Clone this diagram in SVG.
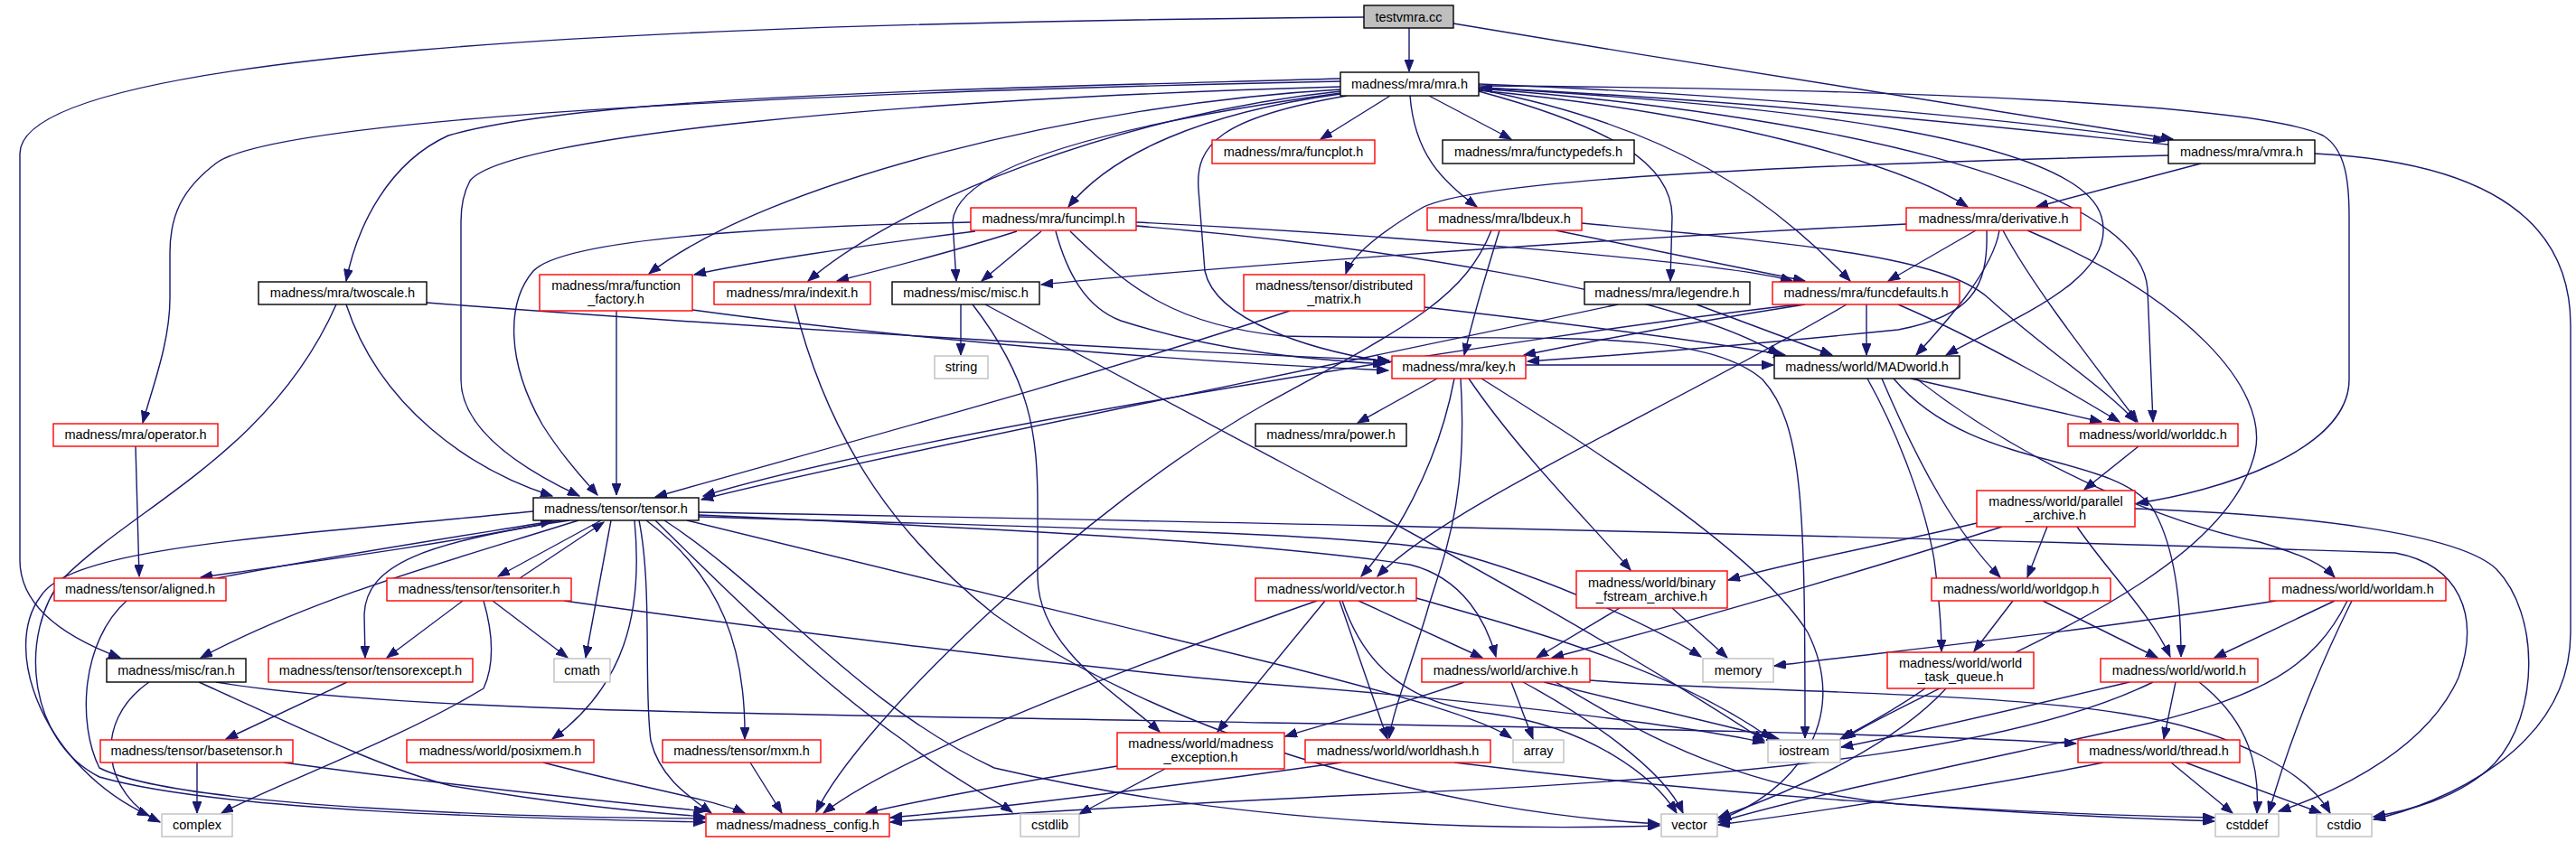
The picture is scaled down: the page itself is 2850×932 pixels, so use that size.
<svg xmlns="http://www.w3.org/2000/svg" width="2850" height="932" viewBox="0 0 2850 932">
<style>
.bg{fill:#fff}
rect{fill:#fff;stroke-width:1.4}
.k rect{stroke:#000}
.r rect{stroke:#ff0000}
.g rect{stroke:#bfbfbf}
.root rect{fill:#bfbfbf;stroke:#000}
text{font-family:"Liberation Sans",Arial,sans-serif;font-size:14.5px;fill:#000;text-anchor:middle}
#edges path{fill:none;stroke:#191970;stroke-width:1.4;marker-end:url(#a)}
</style>
<defs>
<marker id="a" markerUnits="userSpaceOnUse" markerWidth="14" markerHeight="10" refX="13" refY="5" orient="auto"><path d="M0,0L13,5L0,10z" fill="#191970" stroke="#191970" stroke-width="1"/></marker>
</defs>
<rect class="bg" x="0" y="0" width="2850" height="932" style="stroke:none"/>
<g id="edges">
<path d="M1559,31 L1559,79"/>
<path d="M1608,26 C1900,75 2250,130 2404,154"/>
<path d="M1509,19 C700,25 22,60 22,170 L22,620 C22,680 90,712 133,728"/>
<path d="M1538,106 L1461,154"/>
<path d="M1581,106 L1672,154"/>
<path d="M1560,106 C1565,170 1595,200 1634,229"/>
<path d="M1483,104 C1330,125 1230,170 1182,229"/>
<path d="M1636,93 C1950,105 2250,135 2395,156"/>
<path d="M2399,160 C2200,140 1950,112 1638,97"/>
<path d="M1636,100 C1900,125 2100,180 2177,229"/>
<path d="M2435,181 L2253,229"/>
<path d="M1483,87 C1100,98 650,105 496,150 C430,180 395,250 383,311"/>
<path d="M1483,90 C1000,100 320,125 240,180 C200,210 188,240 188,280 L188,330 C188,380 168,430 158,468"/>
<path d="M1483,96 C1000,110 560,150 520,200 C512,215 510,230 510,245 L510,420 C510,480 590,525 641,549"/>
<path d="M1483,99 C1200,115 850,200 718,303"/>
<path d="M1483,101 C1250,125 1000,220 894,311"/>
<path d="M1483,103 C1250,135 1060,180 1054,245 L1058,311"/>
<path d="M1490,106 C1350,130 1322,160 1326,210 L1333,300 C1345,355 1450,388 1538,401"/>
<path d="M1636,101 C1780,140 1850,180 1850,240 L1848,311"/>
<path d="M1636,99 C1850,140 1960,220 2047,311"/>
<path d="M1636,97 C1950,115 2300,150 2325,240 C2345,310 2220,355 2153,393"/>
<path d="M1636,98 C2000,125 2368,200 2376,320 L2382,467"/>
<path d="M1636,95 C2100,98 2500,115 2570,150 C2595,165 2599,200 2599,240 L2599,420 C2599,500 2450,545 2364,557"/>
<path d="M2399,172 C2000,182 1620,198 1570,232 C1520,262 1495,285 1489,303"/>
<path d="M2561,170 C2760,180 2844,250 2844,360 L2844,700 C2844,830 2700,890 2626,907"/>
<path d="M2362,563 C2550,570 2720,590 2762,630 C2810,680 2810,790 2760,845 C2720,885 2660,898 2626,904"/>
<path d="M1074,246 C800,252 620,268 590,300 C560,335 560,400 600,470 C625,510 650,535 661,548"/>
<path d="M1079,256 C950,272 820,292 768,304"/>
<path d="M1125,256 C1050,280 970,300 926,311"/>
<path d="M1152,256 L1086,311"/>
<path d="M1168,256 C1180,300 1200,340 1240,355 C1350,390 1450,398 1532,403"/>
<path d="M1257,250 C1500,270 1850,320 1969,393"/>
<path d="M1257,246 C1500,258 1900,288 1983,311"/>
<path d="M1184,256 C1250,320 1300,360 1420,372 C1700,378 1880,360 1950,420 C1995,470 1997,560 1997,817"/>
<path d="M1659,255 C1645,300 1630,350 1620,393"/>
<path d="M1721,255 L1997,311"/>
<path d="M1750,247 C2000,270 2150,285 2200,330 C2260,385 2330,430 2363,467"/>
<path d="M1650,255 C1620,330 1560,360 1400,447 C1200,560 950,800 903,899"/>
<path d="M2109,248 C1700,268 1300,300 1152,315"/>
<path d="M2186,255 L2089,311"/>
<path d="M2198,255 C2200,320 2180,350 2100,365 C1900,385 1750,396 1690,400"/>
<path d="M2212,255 C2205,300 2150,360 2120,393"/>
<path d="M2216,255 C2250,320 2330,420 2365,467"/>
<path d="M2243,255 C2420,330 2510,430 2495,500 C2470,610 2300,690 2150,760 C2090,790 2060,805 2040,818"/>
<path d="M1997,337 C1850,360 1750,380 1686,393"/>
<path d="M2065,337 L2065,393"/>
<path d="M2100,337 C2200,380 2300,440 2345,467"/>
<path d="M1990,337 C1700,370 1000,480 778,549"/>
<path d="M2043,337 C1850,450 1600,560 1524,638"/>
<path d="M1877,337 L2027,393"/>
<path d="M1790,337 C1400,420 900,520 776,553"/>
<path d="M1427,344 C1200,420 900,500 725,550"/>
<path d="M1576,340 C1750,360 1900,380 1975,393"/>
<path d="M383,337 C420,450 520,520 611,549"/>
<path d="M372,337 C300,500 150,560 70,640 C20,700 30,820 110,860 C250,900 600,906 780,910"/>
<path d="M472,335 C800,360 1200,385 1537,399"/>
<path d="M682,344 L682,548"/>
<path d="M766,343 C1000,375 1300,400 1536,410"/>
<path d="M879,337 C920,500 1000,600 1100,680 C1300,820 1600,900 1836,912"/>
<path d="M1063,337 L1063,393"/>
<path d="M1076,337 C1140,420 1148,480 1148,560 L1148,640 C1150,720 1240,770 1283,810"/>
<path d="M1090,337 L1420,513 C1600,610 1800,720 1952,820"/>
<path d="M1590,419 L1502,468"/>
<path d="M1609,419 C1590,520 1540,600 1506,638"/>
<path d="M1625,419 C1680,500 1760,580 1804,631"/>
<path d="M1616,419 C1625,560 1595,620 1578,680 C1560,740 1540,790 1537,817"/>
<path d="M1639,419 C1800,520 1950,620 2000,700 C2050,800 1980,880 1902,907"/>
<path d="M1688,404 L1962,404"/>
<path d="M2114,419 L2325,467"/>
<path d="M2095,419 C2180,520 2330,500 2380,560 C2405,600 2413,660 2413,727"/>
<path d="M2066,419 C2100,480 2130,560 2140,620 C2145,660 2148,690 2148,721"/>
<path d="M2082,419 C2125,520 2165,590 2213,639"/>
<path d="M2120,419 C2250,520 2400,580 2500,600 C2550,615 2570,625 2583,639"/>
<path d="M2366,494 L2306,542"/>
<path d="M2265,583 L2243,639"/>
<path d="M2298,583 C2330,630 2380,680 2401,727"/>
<path d="M2187,579 C2100,600 1990,620 1912,642"/>
<path d="M2215,583 C2100,620 1900,680 1717,728"/>
<path d="M773,567 C1200,575 2000,590 2650,612 C2720,625 2745,680 2720,750 C2680,840 2560,885 2521,898"/>
<path d="M620,576 C480,605 320,625 222,639"/>
<path d="M240,640 C350,618 500,595 611,577"/>
<path d="M665,576 L551,638"/>
<path d="M575,640 L668,578"/>
<path d="M640,576 C500,620 350,660 222,728"/>
<path d="M630,576 C470,600 405,625 403,680 L404,728"/>
<path d="M676,576 L648,728"/>
<path d="M702,576 C712,680 690,760 611,818"/>
<path d="M715,576 C800,640 825,720 824,818"/>
<path d="M707,576 C722,650 712,760 720,820 C730,860 760,880 787,900"/>
<path d="M725,576 C800,650 900,750 1000,820 C1050,860 1100,885 1120,899"/>
<path d="M735,576 C850,650 950,780 1100,850 C1400,920 1700,918 1836,914"/>
<path d="M760,576 L1420,737 C1550,770 1640,795 1672,817"/>
<path d="M773,570 C1100,585 1400,600 1560,625 C1620,640 1645,690 1655,727"/>
<path d="M773,572 C1200,585 1500,590 1602,610 C1720,640 1840,700 1882,727"/>
<path d="M590,566 C300,595 80,605 45,660 C0,720 50,850 165,903"/>
<path d="M140,665 C90,710 85,800 110,850 C200,895 600,905 780,906"/>
<path d="M150,494 L154,638"/>
<path d="M165,755 C100,800 115,880 177,910"/>
<path d="M220,755 C320,800 420,850 500,870 C620,890 700,898 780,904"/>
<path d="M239,755 C450,790 900,790 1400,800 C1800,806 2100,812 2297,823"/>
<path d="M384,755 L250,818"/>
<path d="M512,665 L428,728"/>
<path d="M545,665 L628,728"/>
<path d="M535,665 C548,710 545,740 535,762 C440,820 300,870 245,900"/>
<path d="M624,665 C800,690 1200,740 1400,757 C1700,780 1900,810 1952,822"/>
<path d="M218,844 L218,900"/>
<path d="M314,844 C500,870 700,890 781,898"/>
<path d="M601,844 C700,870 790,885 824,900"/>
<path d="M830,844 L865,900"/>
<path d="M1457,665 C1300,720 1000,830 911,900"/>
<path d="M1466,665 L1347,810"/>
<path d="M1503,665 L1640,728"/>
<path d="M1482,665 L1535,818"/>
<path d="M1567,662 C1700,700 1850,740 1960,818"/>
<path d="M1485,665 C1510,740 1560,780 1650,790 C1760,805 1830,860 1855,900"/>
<path d="M1792,673 L1700,728"/>
<path d="M1850,673 L1911,728"/>
<path d="M1620,755 C1550,780 1470,800 1422,815"/>
<path d="M1672,755 L1696,818"/>
<path d="M1708,755 L1968,818"/>
<path d="M1685,755 C1750,790 1840,850 1862,900"/>
<path d="M1721,755 C1800,800 1900,870 2100,890 C2300,905 2400,907 2450,909"/>
<path d="M1759,753 C1900,765 2200,765 2350,790 C2480,810 2555,860 2578,900"/>
<path d="M1236,848 C1100,870 1000,890 958,900"/>
<path d="M1289,851 L1194,901"/>
<path d="M1484,844 C1300,870 1100,895 985,905"/>
<path d="M1609,844 C1900,880 2200,900 2450,905"/>
<path d="M2356,755 C2250,780 2100,815 2037,827"/>
<path d="M2407,755 L2394,818"/>
<path d="M2433,755 C2490,800 2500,850 2497,900"/>
<path d="M2382,755 C2250,820 2000,860 1500,880 C1200,895 1050,905 985,910"/>
<path d="M2130,762 C2090,790 2060,805 2036,818"/>
<path d="M2153,762 C2100,820 2000,870 1901,905"/>
<path d="M2227,665 L2184,721"/>
<path d="M2260,665 L2387,728"/>
<path d="M2583,665 L2450,728"/>
<path d="M2518,665 C2300,700 2100,720 1963,737"/>
<path d="M2602,665 C2560,750 2530,830 2510,900"/>
<path d="M2597,665 C2560,740 2500,770 2380,800 C2200,840 2000,880 1901,910"/>
<path d="M2402,844 L2470,900"/>
<path d="M2418,844 L2568,900"/>
<path d="M2327,844 C2200,870 2000,900 1901,913"/>
</g>
<g id="n_testvmra" class="root"><rect x="1509" y="6" width="99" height="25"/><text x="1558.5" y="23.5">testvmra.cc</text></g>
<g id="n_mra" class="k"><rect x="1483" y="80" width="153" height="26"/><text x="1559.5" y="97.5">madness/mra/mra.h</text></g>
<g id="n_funcplot" class="r"><rect x="1341" y="155" width="180" height="26"/><text x="1431" y="172.5">madness/mra/funcplot.h</text></g>
<g id="n_functypedefs" class="k"><rect x="1596" y="155" width="212" height="26"/><text x="1702" y="172.5">madness/mra/functypedefs.h</text></g>
<g id="n_vmra" class="k"><rect x="2399" y="155" width="162" height="26"/><text x="2480" y="172.5">madness/mra/vmra.h</text></g>
<g id="n_funcimpl" class="r"><rect x="1074" y="230" width="183" height="25"/><text x="1165.5" y="247">madness/mra/funcimpl.h</text></g>
<g id="n_lbdeux" class="r"><rect x="1579" y="230" width="171" height="25"/><text x="1664.5" y="247">madness/mra/lbdeux.h</text></g>
<g id="n_derivative" class="r"><rect x="2109" y="230" width="193" height="25"/><text x="2205.5" y="247">madness/mra/derivative.h</text></g>
<g id="n_twoscale" class="k"><rect x="286" y="312" width="186" height="25"/><text x="379" y="329">madness/mra/twoscale.h</text></g>
<g id="n_function_factory" class="r"><rect x="597" y="304" width="169" height="40"/><text x="681.5" y="321">madness/mra/function</text><text x="681.5" y="336">_factory.h</text></g>
<g id="n_indexit" class="r"><rect x="790" y="312" width="173" height="25"/><text x="876.5" y="329">madness/mra/indexit.h</text></g>
<g id="n_misc" class="k"><rect x="987" y="312" width="163" height="25"/><text x="1068.5" y="329">madness/misc/misc.h</text></g>
<g id="n_distributed_matrix" class="r"><rect x="1376" y="304" width="200" height="40"/><text x="1476" y="321">madness/tensor/distributed</text><text x="1476" y="336">_matrix.h</text></g>
<g id="n_legendre" class="k"><rect x="1753" y="312" width="183" height="25"/><text x="1844.5" y="329">madness/mra/legendre.h</text></g>
<g id="n_funcdefaults" class="r"><rect x="1961" y="312" width="207" height="25"/><text x="2064.5" y="329">madness/mra/funcdefaults.h</text></g>
<g id="n_key" class="r"><rect x="1540" y="394" width="148" height="25"/><text x="1614" y="411">madness/mra/key.h</text></g>
<g id="n_MADworld" class="k"><rect x="1963" y="394" width="205" height="25"/><text x="2065.5" y="411">madness/world/MADworld.h</text></g>
<g id="n_string" class="g"><rect x="1034" y="394" width="59" height="25"/><text x="1063.5" y="411">string</text></g>
<g id="n_operator" class="r"><rect x="59" y="469" width="182" height="25"/><text x="150" y="486">madness/mra/operator.h</text></g>
<g id="n_power" class="k"><rect x="1389" y="469" width="167" height="25"/><text x="1472.5" y="486">madness/mra/power.h</text></g>
<g id="n_worlddc" class="r"><rect x="2288" y="469" width="188" height="25"/><text x="2382" y="486">madness/world/worlddc.h</text></g>
<g id="n_tensor" class="k"><rect x="590" y="551" width="183" height="25"/><text x="681.5" y="568">madness/tensor/tensor.h</text></g>
<g id="n_parallel_archive" class="r"><rect x="2187" y="543" width="175" height="40"/><text x="2274.5" y="560">madness/world/parallel</text><text x="2274.5" y="575">_archive.h</text></g>
<g id="n_aligned" class="r"><rect x="60" y="640" width="190" height="25"/><text x="155" y="657">madness/tensor/aligned.h</text></g>
<g id="n_tensoriter" class="r"><rect x="428" y="640" width="204" height="25"/><text x="530" y="657">madness/tensor/tensoriter.h</text></g>
<g id="n_vector_h" class="r"><rect x="1389" y="640" width="178" height="25"/><text x="1478" y="657">madness/world/vector.h</text></g>
<g id="n_binary_fstream_archive" class="r"><rect x="1744" y="632" width="167" height="41"/><text x="1827.5" y="650">madness/world/binary</text><text x="1827.5" y="665">_fstream_archive.h</text></g>
<g id="n_worldgop" class="r"><rect x="2137" y="640" width="198" height="25"/><text x="2236" y="657">madness/world/worldgop.h</text></g>
<g id="n_worldam" class="r"><rect x="2511" y="640" width="195" height="25"/><text x="2608.5" y="657">madness/world/worldam.h</text></g>
<g id="n_ran" class="k"><rect x="118" y="729" width="154" height="26"/><text x="195" y="746.5">madness/misc/ran.h</text></g>
<g id="n_tensorexcept" class="r"><rect x="297" y="729" width="226" height="26"/><text x="410" y="746.5">madness/tensor/tensorexcept.h</text></g>
<g id="n_cmath" class="g"><rect x="613" y="729" width="62" height="26"/><text x="644" y="746.5">cmath</text></g>
<g id="n_archive" class="r"><rect x="1573" y="729" width="186" height="26"/><text x="1666" y="746.5">madness/world/archive.h</text></g>
<g id="n_memory" class="g"><rect x="1884" y="729" width="78" height="26"/><text x="1923" y="746.5">memory</text></g>
<g id="n_world_task_queue" class="r"><rect x="2088" y="722" width="162" height="40"/><text x="2169" y="739">madness/world/world</text><text x="2169" y="754">_task_queue.h</text></g>
<g id="n_world" class="r"><rect x="2324" y="729" width="174" height="26"/><text x="2411" y="746.5">madness/world/world.h</text></g>
<g id="n_basetensor" class="r"><rect x="111" y="819" width="213" height="25"/><text x="217.5" y="836">madness/tensor/basetensor.h</text></g>
<g id="n_posixmem" class="r"><rect x="450" y="819" width="207" height="25"/><text x="553.5" y="836">madness/world/posixmem.h</text></g>
<g id="n_mxm" class="r"><rect x="733" y="819" width="175" height="25"/><text x="820.5" y="836">madness/tensor/mxm.h</text></g>
<g id="n_madness_exception" class="r"><rect x="1236" y="811" width="185" height="40"/><text x="1328.5" y="828">madness/world/madness</text><text x="1328.5" y="843">_exception.h</text></g>
<g id="n_worldhash" class="r"><rect x="1444" y="819" width="205" height="25"/><text x="1546.5" y="836">madness/world/worldhash.h</text></g>
<g id="n_array" class="g"><rect x="1674" y="819" width="56" height="25"/><text x="1702" y="836">array</text></g>
<g id="n_iostream" class="g"><rect x="1956" y="819" width="80" height="25"/><text x="1996" y="836">iostream</text></g>
<g id="n_thread" class="r"><rect x="2299" y="819" width="179" height="25"/><text x="2388.5" y="836">madness/world/thread.h</text></g>
<g id="n_complex" class="g"><rect x="179" y="901" width="78" height="25"/><text x="218" y="918">complex</text></g>
<g id="n_madness_config" class="r"><rect x="781" y="901" width="203" height="25"/><text x="882.5" y="918">madness/madness_config.h</text></g>
<g id="n_cstdlib" class="g"><rect x="1129" y="901" width="65" height="25"/><text x="1161.5" y="918">cstdlib</text></g>
<g id="n_vector" class="g"><rect x="1838" y="901" width="62" height="25"/><text x="1869" y="918">vector</text></g>
<g id="n_cstddef" class="g"><rect x="2451" y="901" width="70" height="25"/><text x="2486" y="918">cstddef</text></g>
<g id="n_cstdio" class="g"><rect x="2563" y="901" width="61" height="25"/><text x="2593.5" y="918">cstdio</text></g>
</svg>
